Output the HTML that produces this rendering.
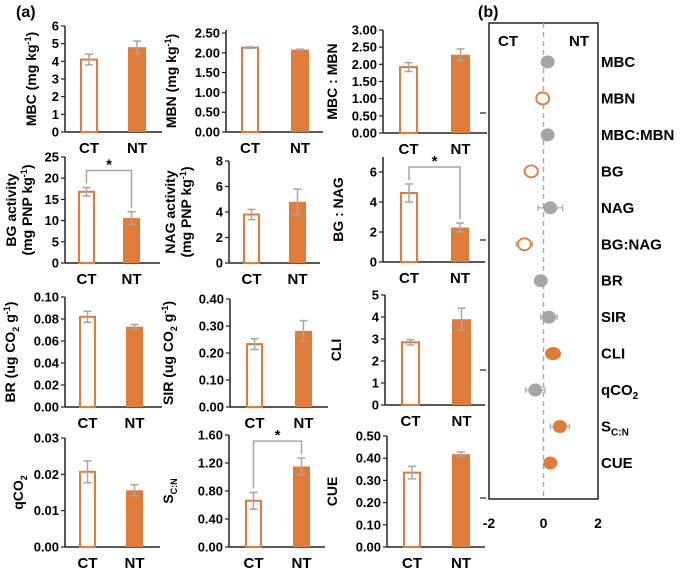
<!DOCTYPE html>
<html><head><meta charset="utf-8"><style>
body{margin:0;background:#fff}
svg{display:block;font-family:"Liberation Sans",Arial,sans-serif;font-weight:bold}
</style></head><body>
<svg id="c" width="685" height="571" viewBox="0 0 685 571">
<text x="16" y="17" font-size="16">(a)</text>
<text x="478" y="17" font-size="16">(b)</text>
</svg>
<script>
const NS="http://www.w3.org/2000/svg";
const svg=document.getElementById('c');
const ORANGE="#E07B39", GRAY="#A6A6A6";
// ---- panel (a) data ----
const panelNames=["MBC","MBN","MBC-MBN","BG","NAG","BG-NAG","BR","SIR","CLI","qCO2","SCN","CUE"];
const ctValues=[4.1,2.13,1.92,16.8,3.8,4.6,0.082,0.233,2.85,0.0207,0.66,0.335];
const ctErrors=[0.3,0.02,0.13,1.0,0.4,0.6,0.005,0.02,0.12,0.003,0.12,0.028];
const ntValues=[4.8,2.08,2.28,10.6,4.8,2.3,0.073,0.282,3.9,0.0156,1.15,0.418];
const ntErrors=[0.35,0.01,0.17,1.5,1.0,0.3,0.002,0.038,0.5,0.0015,0.12,0.01];
const axisMax=[6,2.5,3,25,8,6,0.1,0.4,5,0.03,1.6,0.5];
const tickStep=[1,0.5,0.5,5,2,2,0.02,0.1,1,0.01,0.4,0.1];
const tickDecimals=[0,2,2,0,0,0,2,2,0,2,2,2];
const significant=[false,false,false,true,false,true,false,false,false,false,true,false];
const categories=["CT","NT"];
// layout (pixels)
const layout=[
 {ax:65,y0:132,yt:26,xe:162,b:[80,128],bw:18,top:26},
 {ax:226,y0:132,yt:33,xe:323,b:[241,291],bw:18,top:30},
 {ax:383,y0:133,yt:30,xe:487,b:[399,451],bw:19,top:30},
 {ax:65,y0:263,yt:157,xe:160,b:[78,123],bw:17,top:157},
 {ax:229,y0:263,yt:161,xe:320,b:[243,289],bw:17,top:161},
 {ax:383,y0:262,yt:172,xe:485,b:[400,451],bw:18,top:157},
 {ax:65,y0:407,yt:297,xe:162,b:[79,126],bw:17,top:297},
 {ax:230,y0:407,yt:299,xe:328,b:[246,295],bw:17,top:299},
 {ax:385,y0:405,yt:295,xe:485,b:[401,452],bw:19,top:295},
 {ax:65,y0:547,yt:438,xe:160,b:[79,126],bw:17,top:438},
 {ax:229,y0:547,yt:435,xe:325,b:[245,293],bw:17,top:435},
 {ax:387,y0:547,yt:436,xe:485,b:[403,452],bw:18,top:436}
];
const ylabels=[
 {x:31,lines:[['MBC (mg kg','-1',')']]},
 {x:171,lines:[['MBN (mg kg','-1',')']]},
 {x:332,lines:[['MBC : MBN']]},
 {x:11,lines:[['BG activity'],['(mg PNP kg','-1',')']],dx:16},
 {x:170,lines:[['NAG activity'],['(mg PNP kg','-1',')']],dx:16},
 {x:338,lines:[['BG : NAG']]},
 {x:10,lines:[['BR (ug CO','2',' g','-1',')']],sub:true},
 {x:168,lines:[['SIR (ug CO','2',' g','-1',')']],sub:true},
 {x:336,lines:[['CLI']]},
 {x:18,lines:[['qCO','2']],subOnly:true},
 {x:168,lines:[['S','C:N']],subOnly:true},
 {x:332,lines:[['CUE']]}
];
function el(tag,attrs,parent){const e=document.createElementNS(NS,tag);for(const k in attrs)e.setAttribute(k,attrs[k]);(parent||svg).appendChild(e);return e;}
panelNames.forEach((nm,i)=>{
 const L=layout[i];
 const g=el('g',{});
 
 
 const yS=v=>L.y0-(v/axisMax[i])*(L.y0-L.yt);
 el('line',{x1:L.ax,y1:L.top,x2:L.ax,y2:L.y0,stroke:'#222','stroke-width':1.5},g);
 el('line',{x1:L.ax,y1:L.y0,x2:L.xe,y2:L.y0,stroke:'#222','stroke-width':1.5},g);
 for(let t=0;t<=axisMax[i]+1e-9;t+=tickStep[i]){
  const y=yS(t);
  el('line',{x1:L.ax-4,y1:y,x2:L.ax,y2:y,stroke:'#222','stroke-width':1.2},g);
  const tx=el('text',{x:L.ax-6,y:y+4.5,'font-size':13,'text-anchor':'end'},g);
  tx.textContent=t.toFixed(tickDecimals[i]);
  
  
 }
 [ctValues[i],ntValues[i]].forEach((v,k)=>{
  const e=[ctErrors[i],ntErrors[i]][k];
  const x=L.b[k],y=yS(v);
  const r=el('rect',{x:k?x:x+1,y:y,width:k?L.bw:L.bw-2,height:L.y0-y,fill:k?ORANGE:'#fff',stroke:ORANGE,'stroke-width':k?0:2},g);
  
  
  const cx=x+L.bw/2,y1=yS(v+e),y2=yS(v-e);
  el('line',{x1:cx,y1:y1,x2:cx,y2:y2,stroke:GRAY,'stroke-width':1.5},g);
  el('line',{x1:cx-4,y1:y1,x2:cx+4,y2:y1,stroke:GRAY,'stroke-width':1.5},g);
  el('line',{x1:cx-4,y1:y2,x2:cx+4,y2:y2,stroke:GRAY,'stroke-width':1.5},g);
  const ct=el('text',{x:cx,y:L.y0+21,'font-size':15,'text-anchor':'middle'},g);
  ct.textContent=categories[k];
  
  
 });
 if(significant[i]){
  const c1=L.b[0]+L.bw/2,c2=L.b[1]+L.bw/2;
  const top=Math.min(yS(ctValues[i]+ctErrors[i]),yS(ntValues[i]+ntErrors[i]))-17;
  const p=el('path',{d:`M${c1} ${yS(ctValues[i]+ctErrors[i])-4}V${top}H${c2}V${yS(ntValues[i]+ntErrors[i])-4}`,fill:'none',stroke:GRAY,'stroke-width':1.5},g);
  
  
  const s=el('text',{x:(c1+c2)/2,y:top-1,'font-size':15,'text-anchor':'middle'},g);
  s.textContent='*';
  
  
 }
 const yl=ylabels[i];const cy=(L.top+L.y0)/2;
 yl.lines.forEach((parts,li)=>{
  const x=yl.x+(li*(yl.dx||0));
  const t=el('text',{x:0,y:0,'font-size':14,'text-anchor':'middle',transform:`translate(${x+5},${cy}) rotate(-90)`},g);
  
  
  parts.forEach((p,pi)=>{
   const ts=el('tspan',{},t);
   if(pi%2===1){
    const isSub=(yl.sub&&pi===1)||yl.subOnly;
    ts.setAttribute('font-size','9');
    ts.setAttribute('dy',isSub?'4':'-5');
   } else if(pi>0){ts.setAttribute('dy',(yl.sub&&pi===2)?'-4':'5');}
   ts.textContent=p;
  });
 });
});
// ---- panel (b) data ----
const effectLabels=["MBC","MBN","MBC:MBN","BG","NAG","BG:NAG","BR","SIR","CLI","qCO2","SC:N","CUE"];
const effectValues=[0.15,-0.03,0.15,-0.45,0.25,-0.7,-0.1,0.2,0.35,-0.3,0.6,0.25];
const effectErrors=[0.1,0,0.1,0.25,0.45,0.3,0,0.3,0.2,0.35,0.35,0];
const effectType=["gray","open","gray","open","gray","open","gray","gray","orange","gray","orange","orange"];
const xTicks=[-2,0,2];
const bx0=489,bx1=598,by0=23,by1=499;
const xS=v=>bx0+(v+2)/4*(bx1-bx0);
const rowY=i=>62+i*36.45;
const gb=el('g',{});


el('rect',{x:bx0,y:by0,width:bx1-bx0,height:by1-by0,fill:'none',stroke:'#222','stroke-width':1.5},gb);
el('line',{x1:xS(0),y1:by0,x2:xS(0),y2:by1,stroke:'#aaa','stroke-width':1.5,'stroke-dasharray':'5,4'},gb);
[113,240,370,498].forEach(y=>el('line',{x1:480,y1:y,x2:486,y2:y,stroke:'#222','stroke-width':1.2},gb));
const tCT=el('text',{x:498,y:46,'font-size':15},gb);tCT.textContent='CT';


const tNT=el('text',{x:569,y:46,'font-size':15},gb);tNT.textContent='NT';


xTicks.forEach(v=>{
 const t=el('text',{x:xS(v),y:528,'font-size':14,'text-anchor':'middle'},gb);
 t.textContent=v;
 
 
});
effectLabels.forEach((lab,i)=>{
 const y=rowY(i),x=xS(effectValues[i]);
 if(effectErrors[i]>0){
  const a=xS(effectValues[i]-effectErrors[i]),b=xS(effectValues[i]+effectErrors[i]);
  el('line',{x1:a,y1:y,x2:b,y2:y,stroke:GRAY,'stroke-width':1.2},gb);
  el('line',{x1:a,y1:y-3,x2:a,y2:y+3,stroke:GRAY,'stroke-width':1.2},gb);
  el('line',{x1:b,y1:y-3,x2:b,y2:y+3,stroke:GRAY,'stroke-width':1.2},gb);
 }
 const ty=effectType[i];
 const c=el('ellipse',{cx:x,cy:y,rx:ty==='orange'&&i===8?7.5:6.5,ry:6,fill:ty==='open'?'#fff':(ty==='orange'?ORANGE:GRAY),stroke:ty==='gray'?GRAY:ORANGE,'stroke-width':ty==='open'?1.8:1},gb);
 
 
 const t=el('text',{x:601,y:y+5,'font-size':15},gb);
 
 
 if(lab==='qCO2'){t.innerHTML='qCO<tspan font-size="10" dy="4">2</tspan>';}
 else if(lab==='SC:N'){t.innerHTML='S<tspan font-size="10" dy="4">C:N</tspan>';}
 else t.textContent=lab;
});
</script>
</body></html>
